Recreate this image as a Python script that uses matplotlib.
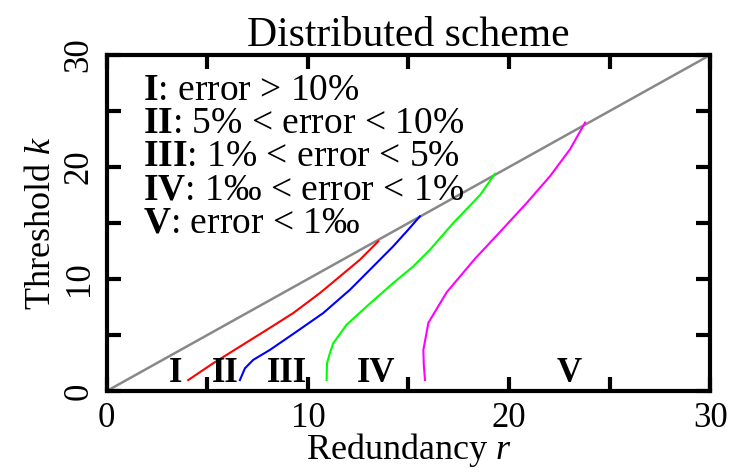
import matplotlib
matplotlib.use("Agg")
import matplotlib.pyplot as plt

plt.rcParams["font.family"] = ["Liberation Serif", "DejaVu Serif"]
plt.rcParams["mathtext.fontset"] = "custom"
plt.rcParams["mathtext.rm"] = "Liberation Serif"
plt.rcParams["mathtext.it"] = "Liberation Serif:italic"
plt.rcParams["mathtext.bf"] = "Liberation Serif:bold"

# boundary curves: redundancy r vs threshold k
r_red = [4.05, 5.29, 6.62, 7.95, 9.27, 10.6, 11.59, 12.59, 13.5]
k_red = [0.98, 2.48, 3.97, 5.46, 6.96, 8.75, 10.23, 11.73, 13.37]

r_blue = [6.62, 6.87, 7.28, 8.11, 9.44, 10.76, 12.09, 13.25, 14.24, 14.99, 15.57]
k_blue = [0.98, 2.03, 2.78, 3.67, 5.31, 6.96, 9.04, 11.13, 12.92, 14.41, 15.6]

r_green = [10.93, 10.95, 11.09, 11.26, 11.92, 12.92, 14.24, 15.24, 16.07,
           17.23, 18.56, 19.3]
k_green = [0.98, 2.48, 3.37, 4.27, 5.91, 7.55, 9.64, 11.13, 12.62,
           15.01, 17.5, 19.4]

r_mag = [15.82, 15.76, 15.74, 15.99, 16.9, 18.3, 19.6, 20.88, 22.04,
         23.03, 23.78]
k_mag = [0.98, 2.4, 3.67, 6.1, 8.82, 11.8, 14.3, 16.8, 19.19,
         21.58, 23.97]

diag = [0, 30]

legend_lines = [
    r"$\mathbf{I}$: error > 10%",
    r"$\mathbf{II}$: 5% < error < 10%",
    r"$\mathbf{III}$: 1% < error < 5%",
    r"$\mathbf{IV}$: 1‰ < error < 1%",
    r"$\mathbf{V}$: error < 1‰",
]

region_names = ["I", "II", "III", "IV", "V"]
region_x = [3.4, 5.9, 8.95, 13.4, 23.0]

fig = plt.figure(figsize=(7.36, 4.74), dpi=100)
ax = fig.add_axes([0.145, 0.175, 0.82, 0.709])

ax.plot(diag, diag, color="#888888", lw=1.8)
ax.plot(r_red, k_red, color="#ff0000", lw=1.5)
ax.plot(r_blue, k_blue, color="#0000ff", lw=1.5)
ax.plot(r_green, k_green, color="#00ff00", lw=1.5)
ax.plot(r_mag, k_mag, color="#ff00ff", lw=1.5)

ax.set_xlim(0, 30)
ax.set_ylim(0, 30)
ax.set_xticks([0, 10, 20, 30])
ax.set_xticks([5, 15, 25], minor=True)
ax.set_yticks([0, 10, 20, 30])
ax.set_yticks([5, 15, 25], minor=True)
for lab in ax.get_yticklabels():
    lab.set_rotation(90)
    lab.set_va("center")
ax.tick_params(which="both", direction="in", top=True, right=True,
               width=3, length=10, labelsize=25)
ax.tick_params(axis="x", pad=8)
ax.tick_params(axis="y", pad=8)
for s in ax.spines.values():
    s.set_linewidth(3)

ax.set_xlabel(r"Redundancy $r$", fontsize=26, labelpad=-3)
ax.set_ylabel(r"Threshold $k$", fontsize=26, labelpad=3)
ax.set_title("Distributed scheme", fontsize=30, pad=5)

for i, txt in enumerate(legend_lines):
    ax.text(0.06, 0.866 - i * 0.0985, txt, transform=ax.transAxes,
            fontsize=27, va="baseline", ha="left")

for name, x in zip(region_names, region_x):
    ax.text(x, 0.8, name, fontsize=25, fontweight="bold",
            ha="center", va="baseline")

fig.savefig("out.png", dpi=100)
